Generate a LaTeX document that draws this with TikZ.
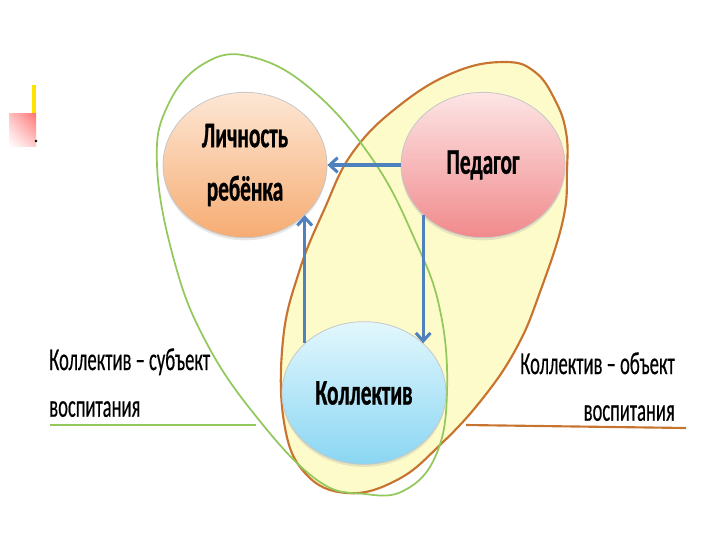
\documentclass[tikz,border=0pt]{standalone}
\usepackage{fontspec}
\setmainfont{Carlito}
\newfontfamily\blobfont[FakeStretch=0.59, BoldFeatures={FakeBold=0.8}]{Carlito}
\newfontfamily\sidefont[FakeStretch=0.58, FakeBold=0.4]{Carlito}
\usetikzlibrary{shapes.geometric,arrows.meta,shadings,shadows}
\definecolor{lichtop}{RGB}{253,231,213}
\definecolor{lichbot}{RGB}{246,172,114}
\definecolor{pedtop}{RGB}{253,229,229}
\definecolor{pedbot}{RGB}{241,138,140}
\definecolor{kolltop}{RGB}{226,247,253}
\definecolor{kollbot}{RGB}{138,214,243}
\definecolor{arrblue}{RGB}{79,129,189}
\definecolor{subjgreen}{RGB}{146,200,92}
\definecolor{objorange}{RGB}{198,116,48}
\definecolor{objfill}{RGB}{253,251,202}

\begin{document}
\begin{tikzpicture}[x=0.75pt, y=-0.75pt,
      blob/.style={ellipse, minimum width=123pt, minimum height=109pt, inner sep=0pt,
                   draw=black!22, line width=0.6pt, align=center,
                   drop shadow={opacity=0.18, shadow xshift=0pt, shadow yshift=-2pt},
                   font=\blobfont\fontsize{27}{40}\selectfont\bfseries},
      arr/.style={draw=arrblue, line width=2.3pt, -{Straight Barb[length=6pt, width=11pt]}},
      sidetext/.style={font=\sidefont\fontsize{24}{35}\selectfont, inner sep=0pt}]
      \useasboundingbox (0, 0) rectangle (720, 540);
      \fill [yellow!85!orange] (32, 85) rectangle (36, 113);
      \shade [upper right=red!55, upper left=red!25, lower right=red!20, lower left=white]
            (9, 113) rectangle (36, 146);
      \fill (36, 141) circle (1.3);
      \draw [draw=objorange, line width=1.6pt, fill=objfill]
            plot [smooth cycle, tension=0.7] coordinates {(505, 62) (535, 72) (555, 100) (566, 132)
            (567, 170) (563, 220) (540, 292) (517, 347) (483, 398) (440, 445) (397, 480) (347, 493)
            (305, 473) (284, 422) (283, 340) (299, 272) (324, 210) (353, 152) (400, 105) (455, 72)};
      \draw [draw=subjgreen, line width=1.3pt]
            plot [smooth cycle, tension=0.7] coordinates {(157, 165) (168, 105) (205, 63) (252, 57)
            (312, 90) (373, 160) (415, 240) (440, 310) (447, 392) (436, 455) (405, 490) (365, 494)
            (317, 480) (255, 415) (205, 340) (174, 260)};
      \draw [subjgreen, line width=1.6pt] (50, 425) -- (256, 425);
      \draw [objorange, line width=1.6pt] (466, 425) -- (686, 428);
      \node [sidetext, anchor=north west, align=left] (subj) at (49, 348) {Коллектив – субъект\\воспитания};
      \node [sidetext, anchor=north east, align=right] (obj) at (675, 352) {Коллектив – объект\\воспитания};
      \node [blob, top color=lichtop, bottom color=lichbot] (lich) at (245, 165) {Личность\\ребёнка};
      \node [blob, top color=pedtop, bottom color=pedbot] (ped) at (483, 165) {Педагог};
      \node [blob, top color=kolltop, bottom color=kollbot, minimum height=107pt] (koll) at (364, 393) {Коллектив};
      \draw [arr] (ped.west) -- (lich.east);
      \draw [arr] (ped.-140) -- (ped.-140 |- koll.40);
      \draw [arr] (koll.140) -- (koll.140 |- lich.-40);
\end{tikzpicture}
\end{document}
